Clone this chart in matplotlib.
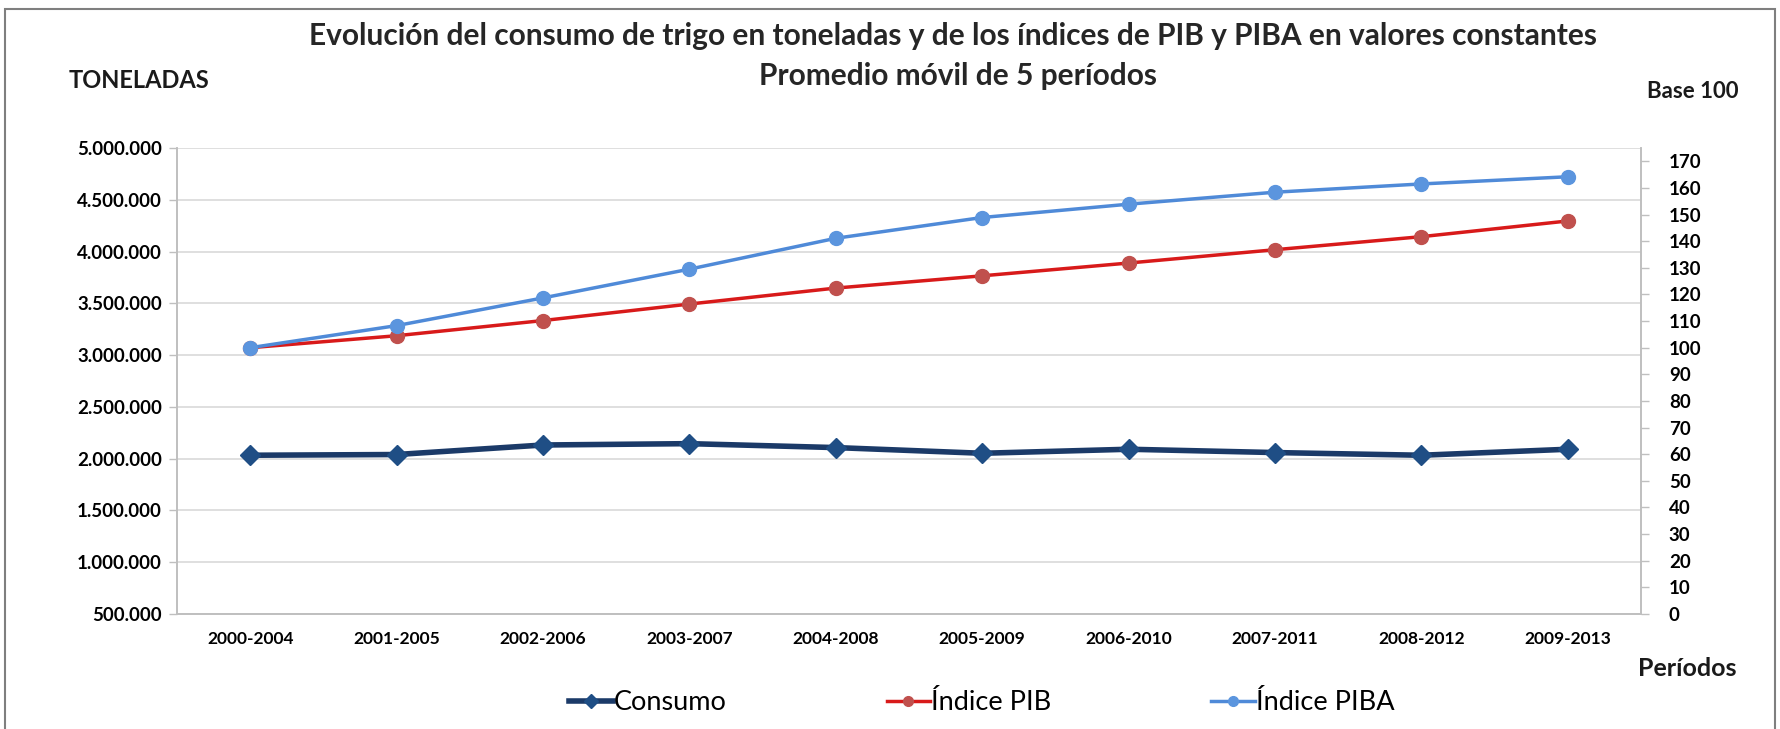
import matplotlib
matplotlib.use("Agg")
import matplotlib.pyplot as plt
from matplotlib.ticker import FuncFormatter, MultipleLocator
from matplotlib.patches import Rectangle

# data
periodos = ["2000-2004", "2001-2005", "2002-2006", "2003-2007", "2004-2008",
            "2005-2009", "2006-2010", "2007-2011", "2008-2012", "2009-2013"]
consumo = [2033000, 2040000, 2132000, 2145000, 2107000,
           2052000, 2091000, 2059000, 2033000, 2091000]
indice_pib = [100.0, 104.5, 110.2, 116.4, 122.4, 127.0, 131.8, 136.8, 141.7, 147.6]
indice_piba = [100.0, 108.3, 118.7, 129.5, 141.1, 148.9, 153.9, 158.4, 161.5, 164.2]

plt.rcParams['font.family'] = ['Lato', 'DejaVu Sans']

W, H = 1781, 729
fig = plt.figure(figsize=(W / 100, H / 100), dpi=100)

def fx(px):
    return px / W

def fy(py):
    return 1 - py / H

# outer chart border
fig.patches.append(Rectangle((fx(5), fy(740)), fx(1775) - fx(5), fy(9) - fy(740),
                             transform=fig.transFigure, fill=False,
                             edgecolor='#7f7f7f', linewidth=1.5))

ax = fig.add_axes([fx(177), fy(614), fx(1641) - fx(177), fy(148) - fy(614)])
ax2 = ax.twinx()

x = list(range(len(periodos)))

ax.plot(x, consumo, color='#1b3a68', linewidth=4, marker='D', markersize=10,
        markerfacecolor='#1f4e85', markeredgecolor='#1f4e85', label='Consumo', zorder=3)
ax2.plot(x, indice_pib, color='#d81a1a', linewidth=2.5, marker='o', markersize=10,
         markerfacecolor='#c0504d', markeredgecolor='#c0504d', label='Índice PIB', zorder=3)
ax2.plot(x, indice_piba, color='#4f8ad8', linewidth=2.5, marker='o', markersize=10,
         markerfacecolor='#5b95de', markeredgecolor='#5b95de', label='Índice PIBA', zorder=3)

ax.set_xlim(-0.5, len(periodos) - 0.5)
ax.set_ylim(500000, 5000000)
ax.yaxis.set_major_locator(MultipleLocator(500000))
ax.yaxis.set_major_formatter(FuncFormatter(lambda v, p: f"{int(v):,}".replace(",", ".")))
ax2.set_ylim(0, 175)
ax2.yaxis.set_major_locator(MultipleLocator(10))

ax.set_xticks(x)
ax.set_xticklabels(periodos, fontsize=12.5, fontweight='bold')
ax.tick_params(axis='x', length=0, pad=12)
ax.tick_params(axis='y', length=6, width=1, color='#bfbfbf', labelsize=13.5, pad=5)
ax2.tick_params(axis='y', length=6, width=1, color='#bfbfbf', labelsize=13.5, pad=14)
for lab in ax.get_yticklabels() + ax2.get_yticklabels():
    lab.set_fontweight('bold')

ax.grid(axis='y', color='#d9d9d9', linewidth=1.2)
ax.set_axisbelow(True)
for a in (ax, ax2):
    a.spines['top'].set_visible(False)
    for s in ('left', 'right', 'bottom'):
        a.spines[s].set_color('#bfbfbf')
        a.spines[s].set_linewidth(1.2)

fig.text(fx(953), fy(36),
         "Evolución del consumo de trigo en toneladas y de los índices de PIB y PIBA en valores constantes",
         ha='center', va='center', fontsize=21.5, fontweight='bold', color='#262626')
fig.text(fx(958), fy(76), "Promedio móvil de 5 períodos",
         ha='center', va='center', fontsize=21.5, fontweight='bold', color='#262626')
fig.text(fx(69), fy(80), "TONELADAS", ha='left', va='center',
         fontsize=17, fontweight='bold', color='#1a1a1a')
fig.text(fx(1647), fy(91), "Base 100", ha='left', va='center',
         fontsize=16, fontweight='bold', color='#1a1a1a')
fig.text(fx(1638), fy(668), "Períodos", ha='left', va='center',
         fontsize=18, fontweight='bold', color='#1a1a1a')

h1, l1 = ax.get_legend_handles_labels()
h2, l2 = ax2.get_legend_handles_labels()
fig.legend(h1 + h2, l1 + l2, loc='center', bbox_to_anchor=(fx(982), fy(703)),
           ncol=3, frameon=False, fontsize=19.5, handlelength=1.6,
           handletextpad=0.05, columnspacing=5.9, markerscale=0.7)

fig.savefig("out.png", dpi=100, facecolor='white')
